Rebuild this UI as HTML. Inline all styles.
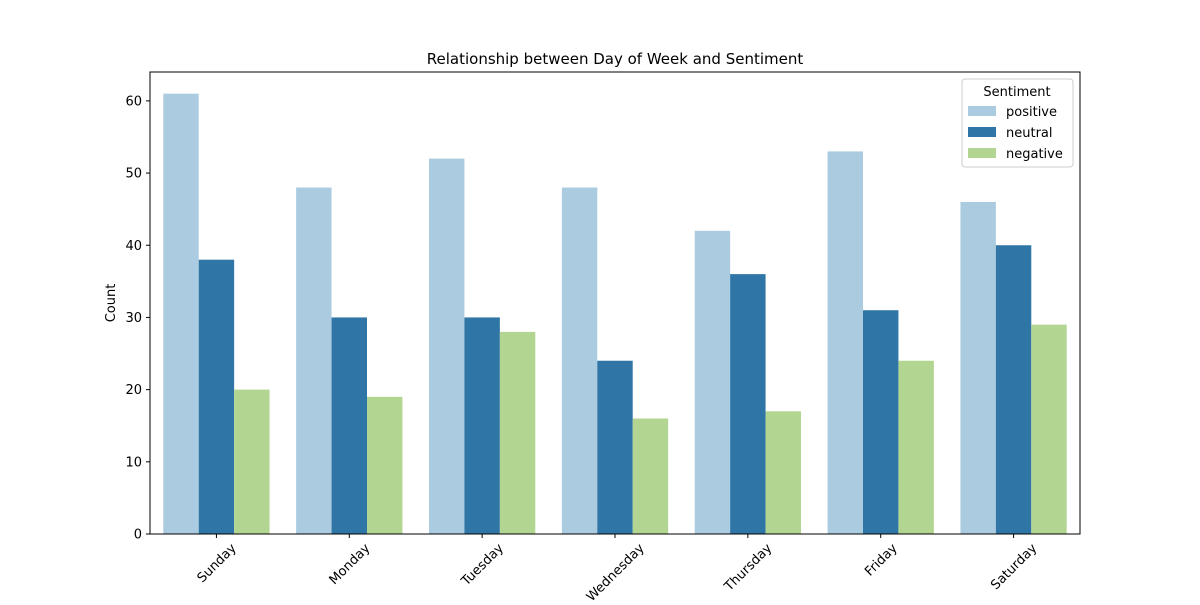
<!DOCTYPE html>
<html><head><meta charset="utf-8"><style>
body{margin:0;background:#fff;font-family:"Liberation Sans","DejaVu Sans",sans-serif}
</style></head><body>
<svg id="chart" width="1200" height="600" xmlns="http://www.w3.org/2000/svg" font-family="DejaVu Sans, Liberation Sans, sans-serif">
<text x="615" y="64" text-anchor="middle" font-size="15">Relationship between Day of Week and Sentiment</text>
<text transform="translate(115,303) rotate(-90)" text-anchor="middle" font-size="13">Count</text>
<g id="bars"></g><g id="axes"></g>
</svg>
<script>
const days=["Sunday","Monday","Tuesday","Wednesday","Thursday","Friday","Saturday"];
const sentiments=["positive","neutral","negative"];
const positive=[61,48,52,48,42,53,46];
const neutral=[38,30,30,24,36,31,40];
const negative=[20,19,28,16,17,24,29];
const yTicks=[0,10,20,30,40,50,60];
const colors=["#abcce0","#2f75a6","#b3d592"];
const NS="http://www.w3.org/2000/svg";
const L=150,R=1080,T=72,B=534,yMax=64;
const y=v=>B-(v/yMax)*(B-T);
const gw=(R-L)/days.length;
const x=i=>L+gw*(i+0.5);
const bw=gw*0.8/3;
function mk(tag,attrs,parent){const e=document.createElementNS(NS,tag);for(const k in attrs)e.setAttribute(k,attrs[k]);parent.appendChild(e);return e;}
const bars=document.getElementById('bars'),axes=document.getElementById('axes');
const series=[positive,neutral,negative];
series.forEach((s,si)=>s.forEach((v,i)=>{
 const r=mk('rect',{x:x(i)-1.5*bw+si*bw,y:y(v),width:bw,height:B-y(v),fill:colors[si]},bars);
 
 
}));
const fr=mk('rect',{x:L,y:T,width:R-L,height:B-T,fill:'none',stroke:'#000','stroke-width':1},axes);


yTicks.forEach(t=>{
 mk('line',{x1:L-4,x2:L,y1:y(t),y2:y(t),stroke:'#000'},axes);
 const tx=mk('text',{x:L-8,y:y(t)+4.5,'text-anchor':'end','font-size':13},axes);
 tx.textContent=t;
 
 
});
days.forEach((d,i)=>{
 mk('line',{x1:x(i),x2:x(i),y1:B,y2:B+4,stroke:'#000'},axes);
 const tx=mk('text',{'text-anchor':'middle','font-size':13},axes);
 tx.textContent=d;
 const w=tx.getComputedTextLength();
 const h=13;
 const cy=B+7+(w+h)*0.7071/2;
 tx.setAttribute('transform',`translate(${x(i)},${cy}) rotate(-45) translate(0,4.5)`);
 
 
});
const lg=mk('g',{},axes);


mk('rect',{x:962,y:79,width:111,height:88,rx:3,fill:'#fff',stroke:'#ccc'},lg);
const lt=mk('text',{x:1017,y:96,'text-anchor':'middle','font-size':13},lg);lt.textContent='Sentiment';
sentiments.forEach((s,si)=>{
 mk('rect',{x:968,y:106+si*21,width:28,height:10,fill:colors[si]},lg);
 const e=mk('text',{x:1006,y:116+si*21,'font-size':13},lg);
 e.textContent=s;
 
 
});
</script>
</body></html>
